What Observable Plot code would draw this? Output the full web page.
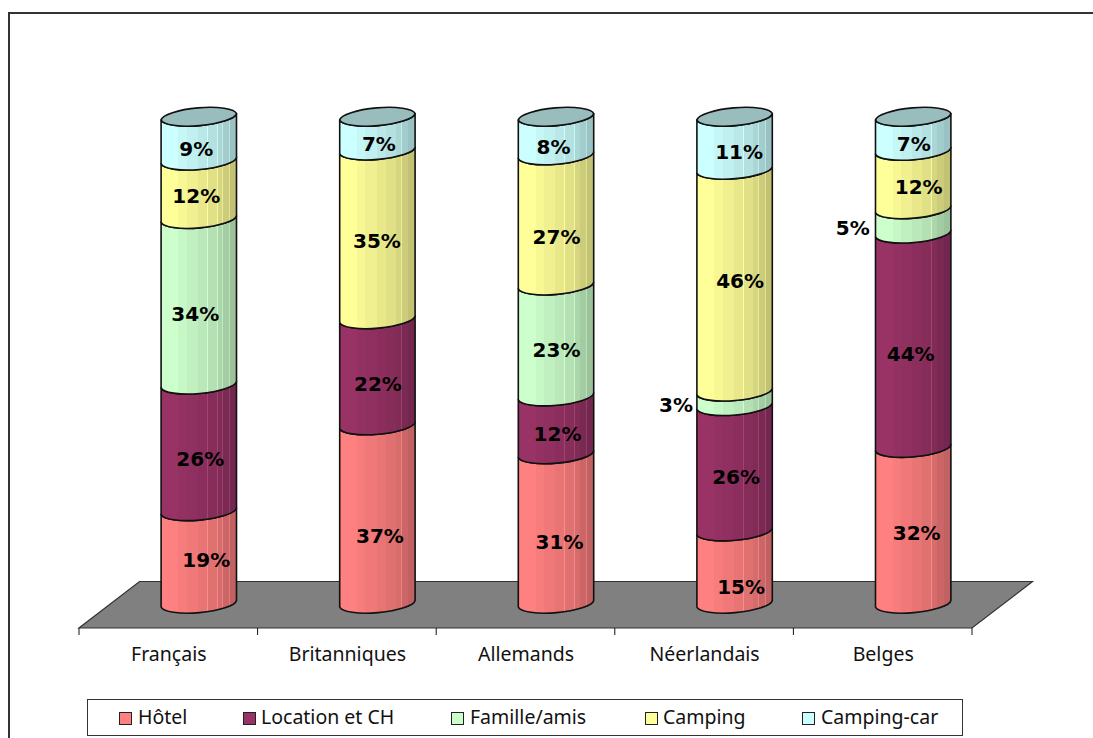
<!DOCTYPE html>
<html><head><meta charset="utf-8">
<script src="https://cdn.jsdelivr.net/npm/d3@7"></script>
<script src="https://cdn.jsdelivr.net/npm/@observablehq/plot@0.6"></script>
<style>
html,body{margin:0;padding:0;background:#fff;overflow:hidden;height:738px}
#frame{position:absolute;left:8px;top:12px;width:1085px;height:726px;border-left:2px solid #333;border-top:2px solid #333;box-sizing:border-box}
#chart{position:absolute;left:0;top:0}
#chart svg{display:block;background:transparent}
#legend{position:absolute;left:87px;top:699px;width:876px;height:37px;box-sizing:border-box;border:1.5px solid #333;background:#fff;font:19.5px "Noto Sans";color:#111}
.sw{position:absolute;top:12px;width:11px;height:11px;border:1.5px solid #222}
.lb{position:absolute;top:0;line-height:34px;white-space:nowrap}
</style></head><body>
<div id="frame"></div>
<div id="chart"></div>
<div id="legend"></div>
<script>
const categories = ["Français","Britanniques","Allemands","Néerlandais","Belges"];
const seriesNames = ["Hôtel","Location et CH","Famille/amis","Camping","Camping-car"];
const hotel      = [19,37,31,15,32];
const location_  = [26,22,12,26,44];
const famille    = [34, 0,23, 3, 5];
const camping    = [12,35,27,46,12];
const campingCar = [ 9, 7, 8,11, 7];
const seriesValues = [hotel,location_,famille,camping,campingCar];
const seriesColors = ["#FF8080","#993366","#CCFFCC","#FFFF99","#CCFFFF"];
const capColor = "#99BDBD";

// label nudges in px, one row per series, one column per category (layout only)
const nudgeX = [[7,2,3,6,3],[1,0,1,1,-3],[-4,0,0,-59,-61],[-3,-1,0,5,5],[-3,1,-3,4,0]];
const nudgeY = [[-1,18,10,16,4],[8,9,5,5,10],[9,0,6,3,3],[3,3,13,-3,4],[7,7,8,6,7]];

const rows = [];
seriesNames.forEach((s,si)=>categories.forEach((c,ci)=>{
  const v = seriesValues[si][ci];
  if (v>0) rows.push({category:c,series:s,value:v,nx:nudgeX[si][ci],ny:nudgeY[si][ci]});
}));

const depthX = 30.5, tilt = 6.5;
const bands = [.23,.34,.49,.62,.75,.82,.91];
const shades = [1,.97,.94,.91,.88,.84,.80,.76];
function gradientDefs(){
  const ns="http://www.w3.org/2000/svg";
  const defs=document.createElementNS(ns,"defs");
  seriesColors.forEach((col,i)=>{
    const g=document.createElementNS(ns,"linearGradient");
    g.setAttribute("id","cyl"+i);
    const c=d3.rgb(col);
    const stop=(o,k,light)=>{const s=document.createElementNS(ns,"stop");
      s.setAttribute("offset",o);
      const f=x=>Math.round(Math.min(255,x*k+(light||0)));
      s.setAttribute("stop-color",`rgb(${f(c.r)},${f(c.g)},${f(c.b)})`);g.appendChild(s);};
    let from=0;
    shades.forEach((k,j)=>{
      const to=j<bands.length?bands[j]:1;
      stop(from,k);stop(to-(j>=3&&j<7?.008:0),k);
      if(j>=3&&j<7){stop(to-.008,k,22);stop(to,k,22);}
      from=to;
    });
    defs.appendChild(g);
  });
  return defs;
}
function floorMark(index,scales,values,dims){
  const ns="http://www.w3.org/2000/svg";
  const g=document.createElementNS(ns,"g");
  const x0=scales.x(categories[0]), step=scales.x(categories[1])-x0;
  const x1=x0+step*categories.length, front=scales.y(0)+21, back=front-46.5, sk=60.5;
  const p=document.createElementNS(ns,"path");
  p.setAttribute("d",`M${x0},${front}L${x1},${front}L${x1+sk},${back}L${x0+sk},${back}Z`);
  p.setAttribute("fill","#808080");p.setAttribute("stroke","#333");p.setAttribute("stroke-width",1.2);
  g.appendChild(p);
  for(let i=0;i<=categories.length;i++){
    const t=document.createElementNS(ns,"line");
    const x=x0+step*i;
    t.setAttribute("x1",x);t.setAttribute("x2",x);t.setAttribute("y1",front);t.setAttribute("y2",front+7);
    t.setAttribute("stroke","#111");g.appendChild(t);
  }
  return g;
}
function cylinders(index,scales,values,dims,ctx,next){
  const g=next(index,scales,values,dims,ctx);
  const ns="http://www.w3.org/2000/svg";
  const rects=[...g.querySelectorAll("rect")];
  const tops=new Map();
  rects.forEach(r=>{
    const x=+r.getAttribute("x"),y=+r.getAttribute("y"),w=+r.getAttribute("width"),h=+r.getAttribute("height");
    const fill=r.getAttribute("fill");
    const rx=Math.hypot(w,tilt)/2+.1, ry=9.6, ang=-Math.atan2(tilt,w)*180/Math.PI;
    const arcTo=(xx,yy,sw)=>`A${rx},${ry} ${ang} 0 ${sw} ${xx},${yy}`;
    const p=document.createElementNS(ns,"path");
    p.setAttribute("d",`M${x},${y}L${x},${y+h}${arcTo(x+w,y+h-tilt,0)}L${x+w},${y-tilt}${arcTo(x,y,1)}Z`);
    p.setAttribute("fill",`url(#cyl${seriesColors.findIndex(c=>d3.rgb(c).formatRgb()===d3.rgb(fill).formatRgb())})`);
    p.setAttribute("stroke","#111");p.setAttribute("stroke-width",1.6);p.setAttribute("stroke-linejoin","round");
    r.replaceWith(p);
    const k=x.toFixed(1);
    if(!tops.has(k)||y<tops.get(k).y) tops.set(k,{x,y,w,arcTo});
  });
  for(const {x,y,w,arcTo} of tops.values()){
    const c=document.createElementNS(ns,"path");
    c.setAttribute("d",`M${x},${y}${arcTo(x+w,y-tilt,0)}${arcTo(x,y,0)}Z`);
    c.setAttribute("fill",capColor);c.setAttribute("stroke","#111");c.setAttribute("stroke-width",1.6);
    g.appendChild(c);
  }
  return g;
}
function nudgeLabels(index,scales,values,dims,ctx,next){
  const g=next(index,scales,values,dims,ctx);
  const texts=g.querySelectorAll("text");
  Array.from(index).forEach((i,j)=>{
    texts[j].setAttribute("dx",rows[i].nx);
    texts[j].setAttribute("dy",rows[i].ny);
  });
  return g;
}
const plot=Plot.plot({
  width:1093,height:690,
  marginLeft:79,marginRight:121,marginTop:120,marginBottom:83,
  style:{background:"transparent",overflow:"visible"},
  x:{domain:categories,padding:0,round:false,label:null},
  y:{domain:[0,1],axis:null},
  color:{domain:seriesNames,range:seriesColors},
  marks:[
    gradientDefs,
    floorMark,
    Plot.axisX({tickSize:0,tickPadding:40,fontSize:19.5,fontFamily:"Noto Sans",fill:"#111",label:null}),
    Plot.barY(rows,Plot.stackY({x:"category",y:"value",fill:"series",order:seriesNames,offset:"normalize",
      insetLeft:51.6,insetRight:51.6,dx:depthX,render:cylinders})),
    Plot.text(rows,Plot.stackY({x:"category",y:"value",z:"series",order:seriesNames,offset:"normalize",
      text:d=>d.value+"%",dx:depthX,fontSize:20,fontWeight:"bold",fontFamily:"DejaVu Sans",fill:"#000",render:nudgeLabels}))
  ]
});
document.getElementById("chart").appendChild(plot);

const legend=d3.select("#legend");
const swatchLeft=[31,155,363,557,714], labelLeft=[50,173,382,575,733];
seriesNames.forEach((s,i)=>{
  legend.append("div").attr("class","sw").style("left",swatchLeft[i]+"px").style("background",seriesColors[i]);
  legend.append("div").attr("class","lb").style("left",labelLeft[i]+"px").text(s);
});
</script></body></html>
